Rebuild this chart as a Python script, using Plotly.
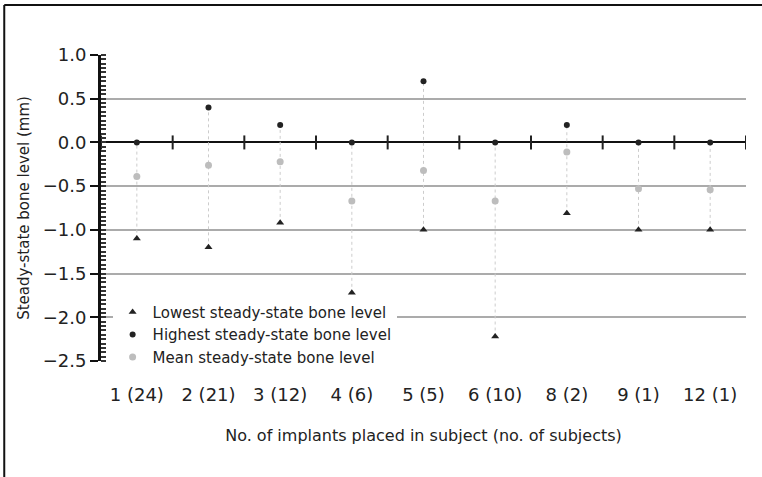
import plotly.graph_objects as go

categories = ["1 (24)", "2 (21)", "3 (12)", "4 (6)", "5 (5)", "6 (10)", "8 (2)", "9 (1)", "12 (1)"]
lowest = [-1.1, -1.2, -0.92, -1.72, -1.0, -2.22, -0.81, -1.0, -1.0]
highest = [0.0, 0.4, 0.2, 0.0, 0.7, 0.0, 0.2, 0.0, 0.0]
mean = [-0.39, -0.26, -0.22, -0.67, -0.32, -0.67, -0.11, -0.53, -0.54]
y_ticks = [1.0, 0.5, 0.0, -0.5, -1.0, -1.5, -2.0, -2.5]

FONT = "DejaVu Sans"
xs = list(range(len(categories)))

fig = go.Figure()

# dotted connectors from lowest to highest
lx, ly = [], []
for i in xs:
    lx += [i, i, None]
    ly += [lowest[i], highest[i], None]
fig.add_trace(go.Scatter(x=lx, y=ly, mode="lines", showlegend=False, hoverinfo="skip",
                         line=dict(color="#cccccc", width=1, dash="dot")))

# boundary tick marks on the zero line
bx = [i - 0.5 for i in range(len(categories) + 1)]
fig.add_trace(go.Scatter(x=bx, y=[0] * len(bx), mode="markers", showlegend=False, hoverinfo="skip",
                         marker=dict(symbol="line-ns", size=10, line=dict(color="#222", width=2))))

fig.add_trace(go.Scatter(x=xs, y=lowest, mode="markers", name="Lowest steady-state bone level",
                         marker=dict(symbol="triangle-up", size=7, color="#222")))
fig.add_trace(go.Scatter(x=xs, y=highest, mode="markers", name="Highest steady-state bone level",
                         marker=dict(symbol="circle", size=6, color="#222")))
fig.add_trace(go.Scatter(x=xs, y=mean, mode="markers", name="Mean steady-state bone level",
                         marker=dict(symbol="circle", size=7, color="#bdbdbd")))

fig.update_layout(
    width=762, height=477,
    margin=dict(l=101, r=16, t=55, b=116),
    paper_bgcolor="white", plot_bgcolor="white",
    font=dict(family=FONT, size=16, color="#222"),
    showlegend=True,
    legend=dict(x=0.018, y=0.213, xanchor="left", yanchor="top", bgcolor="white",
                font=dict(size=15, family=FONT, color="#222"), tracegroupgap=0,
                itemwidth=30),
    xaxis=dict(range=[-0.5, 8.5], tickvals=xs, ticktext=categories, showgrid=False,
               zeroline=False, showline=False, ticks="", ticklabelstandoff=21,
               tickfont=dict(size=18),
               title=dict(text="No. of implants placed in subject (no. of subjects)",
                          font=dict(size=16), standoff=25)),
    yaxis=dict(range=[-2.5, 1.0], tickvals=y_ticks, tickformat=".1f",
               showgrid=True, gridcolor="#ababab", gridwidth=2,
               zeroline=True, zerolinecolor="#111", zerolinewidth=2,
               showline=True, linecolor="#111", linewidth=3,
               ticks="outside", ticklen=8, tickwidth=2, tickcolor="#111",
               minor=dict(dtick=0.05, ticks="inside", ticklen=5, tickwidth=2, tickcolor="#333",
                          showgrid=False),
               tickfont=dict(size=18),
               title=dict(text="Steady-state bone level (mm)", font=dict(size=15), standoff=10)),
    shapes=[
        dict(type="line", xref="paper", yref="paper", x0=-0.15, x1=1.1, y0=1.163, y1=1.163,
             line=dict(color="#111", width=2)),
        dict(type="line", xref="paper", yref="paper", x0=-0.15, x1=-0.15, y0=1.163, y1=-0.5,
             line=dict(color="#111", width=2)),
    ],
)

fig.write_html("out.html")
